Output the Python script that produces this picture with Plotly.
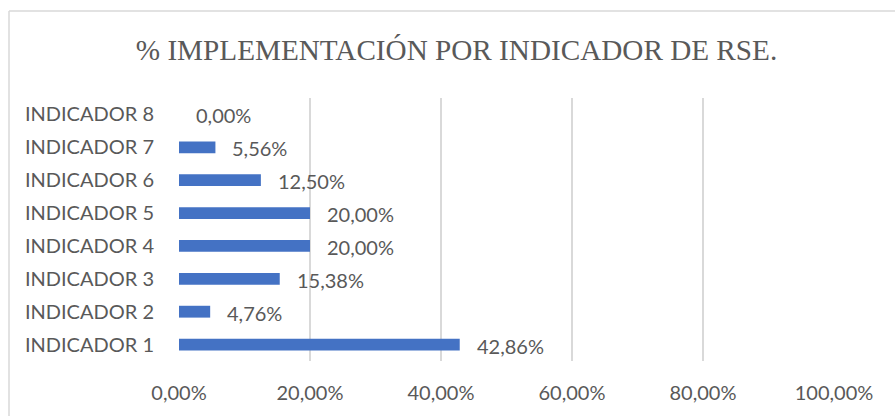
import plotly.graph_objects as go

categories = ["INDICADOR 1", "INDICADOR 2", "INDICADOR 3", "INDICADOR 4",
              "INDICADOR 5", "INDICADOR 6", "INDICADOR 7", "INDICADOR 8"]
values = [0.4286, 0.0476, 0.1538, 0.20, 0.20, 0.125, 0.0556, 0.0]
tick_vals = [0, 0.2, 0.4, 0.6, 0.8, 1.0]
title_text = "% IMPLEMENTACIÓN POR INDICADOR DE RSE."

W, H = 895, 416
L, R, T, B = 179, 61, 98, 55
pw, ph = W - L - R, H - T - B

label_font = dict(family="Lato, Carlito, Liberation Sans, sans-serif", size=20, color="#595959")

fig = go.Figure(go.Bar(
    x=values, y=categories, orientation="h",
    marker=dict(color="#4472C4", line=dict(width=0)),
    width=0.36, hoverinfo="skip",
))

for v, c in zip(values, categories):
    fig.add_annotation(x=v, y=c, xref="x", yref="y", text=f"{v*100:.2f}%".replace(".", ","),
                       showarrow=False, xanchor="left", yanchor="middle", xshift=15, yshift=-1,
                       font=label_font)

fig.update_layout(
    width=W, height=H,
    margin=dict(l=L, r=R, t=T, b=B, pad=0, autoexpand=False),
    paper_bgcolor="white", plot_bgcolor="white",
    separators=",.",
    showlegend=False,
    title=dict(text=title_text, x=456.5 / W, xref="container", xanchor="center",
               y=1 - 49.5 / H, yref="container", yanchor="middle",
               font=dict(family="Liberation Serif, Times New Roman, serif", size=29.2, color="#595959")),
    xaxis=dict(range=[0, 1.0], tickvals=tick_vals, tickformat=".2%",
               showgrid=True, gridcolor="#D9D9D9", gridwidth=1.5,
               zeroline=False, showline=False, automargin=False,
               ticks="outside", ticklen=14, tickcolor="rgba(0,0,0,0)",
               tickfont=label_font, fixedrange=True),
    yaxis=dict(categoryorder="array", categoryarray=categories,
               range=[-0.5, 7.5], showgrid=False, zeroline=False, showline=False,
               automargin=False,
               ticks="outside", ticklen=20, tickcolor="rgba(0,0,0,0)",
               tickfont=label_font, fixedrange=True),
    shapes=[
        dict(type="line", xref="paper", yref="paper",
             x0=(9 - L) / pw, x1=(9 - L) / pw, y0=-1, y1=(H - B - 11) / ph,
             line=dict(color="#D9D9D9", width=1.5)),
        dict(type="line", xref="paper", yref="paper",
             x0=(9 - L) / pw, x1=2, y0=(H - B - 11) / ph, y1=(H - B - 11) / ph,
             line=dict(color="#D9D9D9", width=1.5)),
    ],
)

fig.write_html("out.html", config={"displayModeBar": False},
               post_script="document.body.style.margin='0';document.body.style.overflow='hidden';")
